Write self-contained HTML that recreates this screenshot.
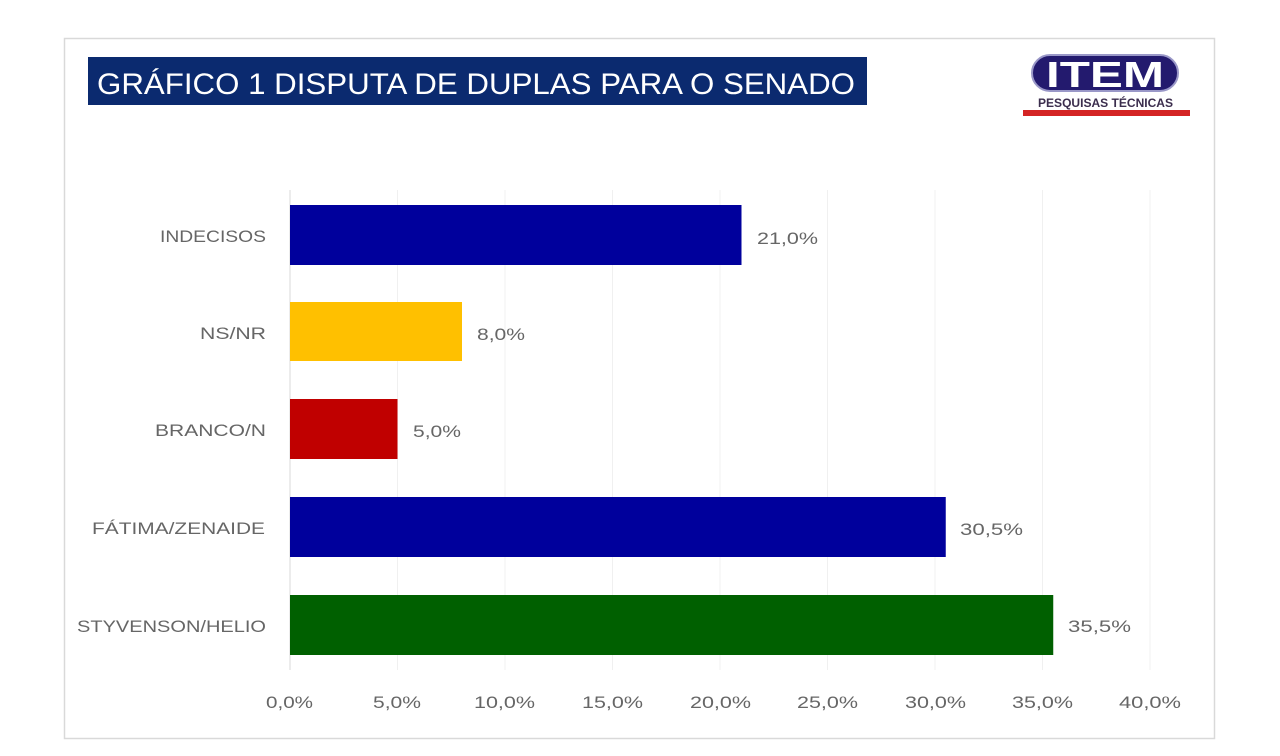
<!DOCTYPE html>
<html>
<head>
<meta charset="utf-8">
<style>
  html,body{margin:0;padding:0;background:#ffffff;}
  svg{display:block;}
  text{font-family:"Liberation Sans", sans-serif;}
</style>
</head>
<body>
<svg width="1280" height="756" viewBox="0 0 1280 756" xmlns="http://www.w3.org/2000/svg">
  <rect x="0" y="0" width="1280" height="756" fill="#ffffff"/>
  <!-- frame -->
  <rect x="64.5" y="38.5" width="1150" height="700" fill="#ffffff" stroke="#d9d9d9" stroke-width="1.5"/>

  <!-- title -->
  <rect x="88" y="57" width="779" height="48" fill="#0b2a6f"/>
  <text x="97" y="94" font-size="30" fill="#ffffff" textLength="758" lengthAdjust="spacingAndGlyphs">GRÁFICO 1 DISPUTA DE DUPLAS PARA O SENADO</text>

  <!-- logo -->
  <rect x="1032" y="55" width="146" height="36" rx="18" ry="18" fill="#231a6e" stroke="#9a98c8" stroke-width="2"/>
  <text x="1046" y="87" font-size="36" font-weight="bold" fill="#ffffff" textLength="118" lengthAdjust="spacingAndGlyphs">ITEM</text>
  <text x="1038" y="107" font-size="12" font-weight="bold" fill="#3b2d4d" textLength="135" lengthAdjust="spacingAndGlyphs">PESQUISAS TÉCNICAS</text>
  <rect x="1023" y="110" width="167" height="6" fill="#d42424"/>

  <!-- gridlines -->
  <g stroke="#f0f0f0" stroke-width="1">
    <line x1="397.5" y1="190" x2="397.5" y2="670"/>
    <line x1="505" y1="190" x2="505" y2="670"/>
    <line x1="612.5" y1="190" x2="612.5" y2="670"/>
    <line x1="720" y1="190" x2="720" y2="670"/>
    <line x1="827.5" y1="190" x2="827.5" y2="670"/>
    <line x1="935" y1="190" x2="935" y2="670"/>
    <line x1="1042.5" y1="190" x2="1042.5" y2="670"/>
    <line x1="1150" y1="190" x2="1150" y2="670"/>
  </g>
  <line x1="290" y1="190" x2="290" y2="670" stroke="#d9d9d9" stroke-width="1"/>

  <!-- bars -->
  <rect x="290" y="205" width="451.5" height="60" fill="#00009c"/>
  <rect x="290" y="302" width="172" height="59" fill="#ffc000"/>
  <rect x="290" y="399" width="107.5" height="60" fill="#c00000"/>
  <rect x="290" y="497" width="655.75" height="60" fill="#00009c"/>
  <rect x="290" y="595" width="763.25" height="60" fill="#006000"/>

  <!-- category labels -->
  <g font-size="17" fill="#666666">
    <text x="160" y="242" textLength="106" lengthAdjust="spacingAndGlyphs">INDECISOS</text>
    <text x="200" y="339" textLength="66" lengthAdjust="spacingAndGlyphs">NS/NR</text>
    <text x="155" y="436" textLength="111" lengthAdjust="spacingAndGlyphs">BRANCO/N</text>
    <text x="92" y="534" textLength="173" lengthAdjust="spacingAndGlyphs">FÁTIMA/ZENAIDE</text>
    <text x="77" y="632" textLength="189" lengthAdjust="spacingAndGlyphs">STYVENSON/HELIO</text>
  </g>

  <!-- value labels -->
  <g font-size="17" fill="#666666">
    <text x="757" y="244" textLength="61" lengthAdjust="spacingAndGlyphs">21,0%</text>
    <text x="477" y="340" textLength="48" lengthAdjust="spacingAndGlyphs">8,0%</text>
    <text x="413" y="437" textLength="48" lengthAdjust="spacingAndGlyphs">5,0%</text>
    <text x="960" y="535" textLength="63" lengthAdjust="spacingAndGlyphs">30,5%</text>
    <text x="1068" y="632" textLength="63" lengthAdjust="spacingAndGlyphs">35,5%</text>
  </g>

  <!-- tick labels -->
  <g font-size="17" fill="#666666">
    <text x="266" y="708" textLength="47" lengthAdjust="spacingAndGlyphs">0,0%</text>
    <text x="373" y="708" textLength="48" lengthAdjust="spacingAndGlyphs">5,0%</text>
    <text x="474" y="708" textLength="61" lengthAdjust="spacingAndGlyphs">10,0%</text>
    <text x="582" y="708" textLength="61" lengthAdjust="spacingAndGlyphs">15,0%</text>
    <text x="690" y="708" textLength="61" lengthAdjust="spacingAndGlyphs">20,0%</text>
    <text x="797" y="708" textLength="61" lengthAdjust="spacingAndGlyphs">25,0%</text>
    <text x="905" y="708" textLength="61" lengthAdjust="spacingAndGlyphs">30,0%</text>
    <text x="1012" y="708" textLength="61" lengthAdjust="spacingAndGlyphs">35,0%</text>
    <text x="1119" y="708" textLength="62" lengthAdjust="spacingAndGlyphs">40,0%</text>
  </g>
</svg>
</body>
</html>
